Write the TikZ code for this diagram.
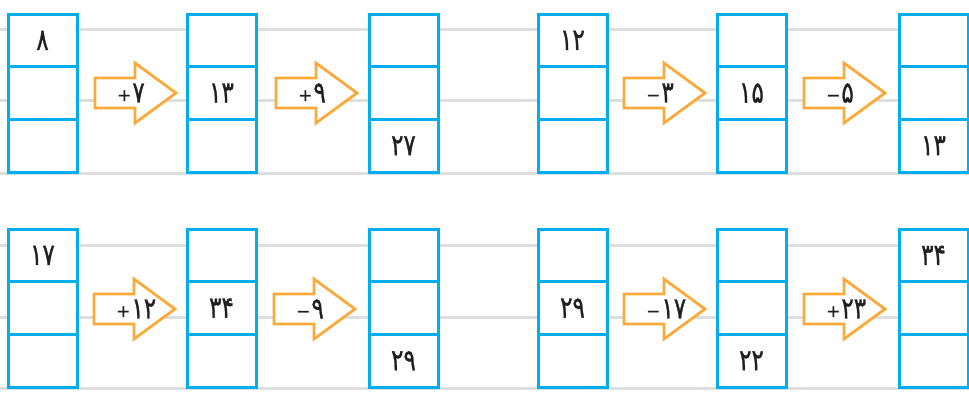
\documentclass[tikz,border=0pt]{standalone}
\usepackage{fontspec}
\usepackage{graphicx}
\newfontfamily\pfont[Script=Arabic,FakeBold=1.2]{DejaVu Sans}
\usetikzlibrary{positioning}
\definecolor{boxblue}{HTML}{00AEEF}
\definecolor{arrorange}{HTML}{FBAA3A}
\definecolor{rulegray}{HTML}{DDDEDF}
\definecolor{inkblack}{HTML}{231F20}
\newcommand{\pnum}[1]{\scalebox{1}[1.3]{#1}}
\tikzset{
 cell/.style={draw=boxblue, line width=3pt, fill=white, minimum width=69pt, minimum height=52.7pt, inner sep=0pt, outer sep=0pt, text=inkblack, font=\pfont\fontsize{23}{26}\selectfont},
 oparr/.style={draw=arrorange, line width=2.8pt, fill=white, line join=miter},
 oplabel/.style={inner sep=0pt, text=inkblack, font=\pfont\fontsize{23}{26}\selectfont},
 rule/.style={draw=rulegray, line width=3pt}
}
% x, y, name, top, middle, bottom
\newcommand{\numcol}[6]{%
\node[cell, anchor=north west] (#3t) at (#1,#2) {\pnum{#4}};
\node[cell, below=0pt of #3t] (#3m) {\pnum{#5}};
\node[cell, below=0pt of #3m] (#3b) {\pnum{#6}};}
% x, y, name, sign, number
\newcommand{\oparrow}[5]{%
\draw[oparr] (#1,#2-15) -- ++(40,0) -- ++(0,-15) -- ++(41,30) -- ++(-41,30) -- ++(0,-15) -- ++(-40,0) -- cycle;
\node[oplabel, anchor=west] (#3) at (#1+22,#2) {\raisebox{1.5pt}{\fontsize{17}{20}\selectfont #4}\kern1pt\pnum{#5}};}
\begin{document}
\begin{tikzpicture}[x=1pt,y=-1pt]
\useasboundingbox (0,0) rectangle (969,394);
\foreach \y in {29,100,173,245,317,388} \draw[rule] (0,\y) -- (969,\y);

\numcol{8}{14}{a}{۸}{}{}
\numcol{187}{14}{b}{}{۱۳}{}
\numcol{369}{14}{c}{}{}{۲۷}
\numcol{538}{14}{d}{۱۲}{}{}
\numcol{717}{14}{e}{}{۱۵}{}
\numcol{899}{14}{f}{}{}{۱۳}
\oparrow{95}{93}{ab}{+}{۷}
\oparrow{276}{93}{bc}{+}{۹}
\oparrow{624}{93}{de}{−}{۳}
\oparrow{804}{93}{ef}{−}{۵}

\numcol{8}{229}{g}{۱۷}{}{}
\numcol{187}{229}{h}{}{۳۴}{}
\numcol{369}{229}{i}{}{}{۲۹}
\numcol{538}{229}{j}{}{۲۹}{}
\numcol{717}{229}{k}{}{}{۲۲}
\numcol{899}{229}{l}{۳۴}{}{}
\oparrow{94}{309}{gh}{+}{۱۲}
\oparrow{274}{309}{hi}{−}{۹}
\oparrow{624}{309}{jk}{−}{۱۷}
\oparrow{804}{309}{kl}{+}{۲۳}
\end{tikzpicture}
\end{document}
